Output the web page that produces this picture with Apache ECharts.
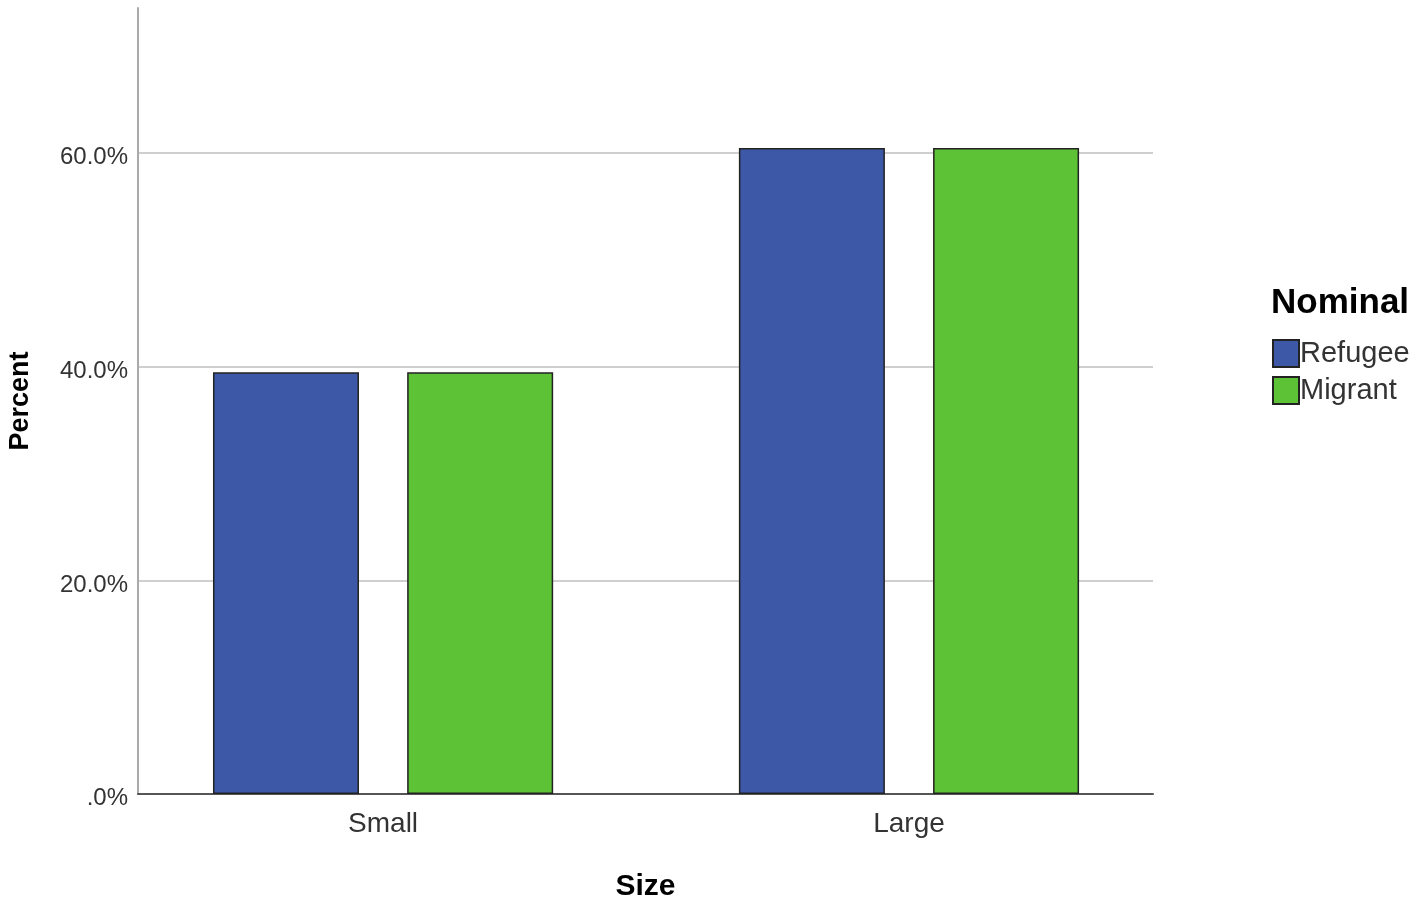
<!DOCTYPE html>
<html>
<head>
<meta charset="utf-8">
<script src="https://cdn.jsdelivr.net/npm/echarts@6/dist/echarts.min.js"></script>
<style>
    html, body { margin: 0; padding: 0; background: #fff; }
    #chart { width: 1417px; height: 901px; }
</style>
</head>
<body>
<div id="chart"></div>
<script>
// 数据
var categories = ['Small', 'Large'];
var refugeeValues = [39.5, 60.5];
var migrantValues = [39.5, 60.5];
var seriesNames = ['Refugee', 'Migrant'];
var yTicks = [0, 20, 40, 60];

// 类别位置 (0, 1) 放在数值轴上, 以便留出 SPSS 那样不对称的两侧空白
var catIndex = categories.map(function (c, i) { return i; });
function pairs(values) {
    return values.map(function (v, i) { return [catIndex[i], v]; });
}

var chart = echarts.init(document.getElementById('chart'));
var option = {
    animation: false,
    title: {
        text: 'Nominal',
        left: 1266,
        top: 281,
        textStyle: { fontFamily: 'Arial', fontSize: 35, fontWeight: 'bold', color: '#000' }
    },
    legend: {
        data: seriesNames,
        orient: 'vertical',
        left: 1267,
        top: 334,
        itemWidth: 26,
        itemHeight: 27,
        itemGap: 8,
        icon: 'rect',
        textStyle: { fontFamily: 'Arial', fontSize: 29, color: '#333', padding: [0, 0, 0, -4] }
    },
    grid: { left: 138, top: 8, right: 264, bottom: 107, containLabel: false, outerBoundsMode: 'none' },
    xAxis: {
        type: 'value',
        min: -0.466,
        max: 1.464,
        name: 'Size',
        nameLocation: 'middle',
        nameGap: 78,
        nameTextStyle: { fontFamily: 'Arial', fontSize: 30, fontWeight: 'bold', color: '#000' },
        axisLine: { show: true, onZero: false, lineStyle: { color: '#555', width: 2 } },
        axisTick: { show: false },
        splitLine: { show: false },
        axisLabel: {
            fontFamily: 'Arial', fontSize: 28, color: '#333', margin: 16,
            customValues: catIndex,
            formatter: function (v) { return categories[Math.round(v)]; }
        }
    },
    yAxis: {
        type: 'value',
        min: 0,
        max: 73.6,
        interval: 20,
        name: 'Percent',
        nameLocation: 'middle',
        nameGap: 104,
        nameTextStyle: { fontFamily: 'Arial', fontSize: 27, fontWeight: 'bold', color: '#000' },
        axisLine: { show: true, onZero: false, lineStyle: { color: '#aaa', width: 2 } },
        axisTick: { show: false },
        axisLabel: {
            fontFamily: 'Arial', fontSize: 24, color: '#333', margin: 10,
            showMaxLabel: false,
            formatter: function (v) {
                if (yTicks.indexOf(v) < 0) return '';
                return '{p|' + (v === 0 ? '.0%' : v.toFixed(1) + '%') + '}';
            },
            rich: {
                p: { fontFamily: 'Arial', fontSize: 24, color: '#333', padding: [9, 0, 0, 0] }
            }
        },
        splitLine: { showMaxLine: false, lineStyle: { color: '#cfcfcf', width: 2 } }
    },
    series: [
        {
            name: seriesNames[0],
            type: 'bar',
            data: pairs(refugeeValues),
            barWidth: 146,
            barGap: '33%',
            itemStyle: { color: '#3e58a8', borderColor: '#222', borderWidth: 1.5 }
        },
        {
            name: seriesNames[1],
            type: 'bar',
            data: pairs(migrantValues),
            barWidth: 146,
            itemStyle: { color: '#5ec236', borderColor: '#222', borderWidth: 1.5 }
        }
    ]
};
chart.setOption(option);
</script>
</body>
</html>
